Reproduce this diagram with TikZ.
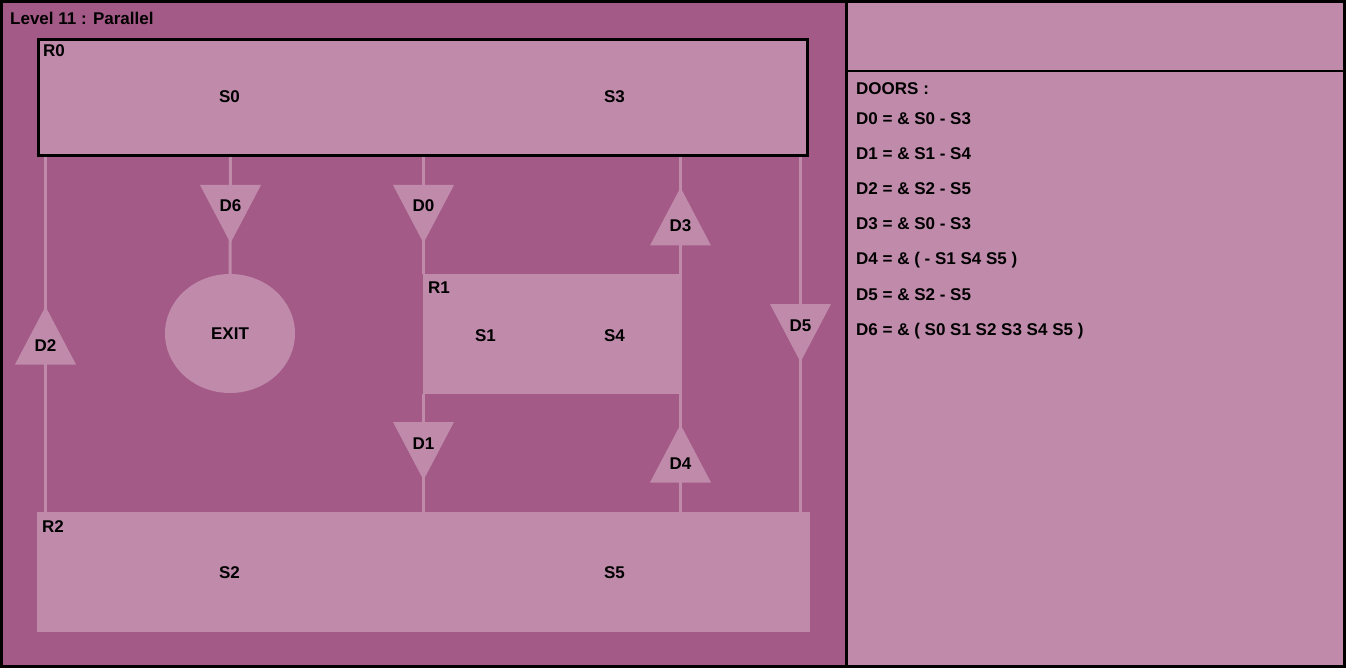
\documentclass[tikz,border=0pt]{standalone}
\usepackage{fontspec}
\setmainfont{Liberation Sans}
\usetikzlibrary{shapes.geometric}
\definecolor{darkp}{RGB}{164,90,135}
\definecolor{lightp}{RGB}{192,139,171}
\pgfdeclarelayer{back}
\pgfdeclarelayer{mid}
\pgfsetlayers{back,mid,main}
\newcommand\mydowndoor[3]{%
  \fill[lightp] (#2-30.5,#3) -- (#2+30.5,#3) -- (#2,#3+58) -- cycle;
  \node[txt, anchor=base] (#1) at (#2,#3+27) {#1};}
\newcommand\myupdoor[3]{%
  \fill[lightp] (#2-30.5,#3+58) -- (#2+30.5,#3+58) -- (#2,#3) -- cycle;
  \node[txt, anchor=base] (#1) at (#2,#3+44.5) {#1};}
\begin{document}
\begin{tikzpicture}[x=1pt,y=-1pt,
  txt/.style={font=\fontsize{17}{20}\selectfont\bfseries, inner sep=0pt, text=black},
  wire/.style={draw=lightp, line width=3pt},
  roombox/.style={fill=lightp, inner sep=0pt, outer sep=0pt}]
\useasboundingbox (0,0) rectangle (1346,668);
\begin{pgfonlayer}{back}
\fill[black] (0,0) rectangle (1346,668);
\fill[darkp] (3,3) rectangle (845,665);
\fill[lightp] (848,3) rectangle (1343,70);
\fill[lightp] (848,72) rectangle (1343,665);
\end{pgfonlayer}
% rooms
\node[roombox, draw=black, line width=3pt, minimum width=769pt, minimum height=116pt, outer sep=1.5pt] (R0) at (423,97.5) {};
\node[roombox, minimum width=258.5pt, minimum height=119.5pt] (R1) at (552.25,333.75) {};
\node[roombox, minimum width=773pt, minimum height=119.5pt] (R2) at (423.5,571.75) {};
\node[roombox, ellipse, minimum width=130pt, minimum height=119pt] (EXIT) at (230,333.5) {};
\node[txt, anchor=base] (EXITlabel) at (230,339) {EXIT};
% room labels
\node[txt, anchor=base west] (title) at (10,25) {Level 11 : Parallel};
\node[txt, anchor=base west] (R0label) at (43,57) {R0};
\node[txt, anchor=base] (S0) at (229.5,103) {S0};
\node[txt, anchor=base] (S3) at (614.5,103) {S3};
\node[txt, anchor=base west] (R1label) at (428,294) {R1};
\node[txt, anchor=base] (S1) at (485.5,341) {S1};
\node[txt, anchor=base] (S4) at (614.5,341) {S4};
\node[txt, anchor=base west] (R2label) at (42,532) {R2};
\node[txt, anchor=base] (S2) at (229.5,578) {S2};
\node[txt, anchor=base] (S5) at (614.5,578) {S5};
% doors
\mydowndoor{D6}{230.5}{185}
\mydowndoor{D0}{423.5}{185}
\mydowndoor{D1}{423.5}{422}
\mydowndoor{D5}{800.5}{304}
\myupdoor{D3}{680.5}{187.5}
\myupdoor{D4}{680.5}{424.5}
\myupdoor{D2}{45.5}{306.5}
% connectors
\begin{pgfonlayer}{mid}
\draw[wire] (R0.south -| D2) -- (R2.north -| D2);
\draw[wire] (R0.south -| D6) -- (EXIT.north);
\draw[wire] (R0.south -| D0) -- (R1.north -| D0);
\draw[wire] (R1.south -| D1) -- (R2.north -| D1);
\draw[wire] (R0.south -| D3) -- (R1.north -| D3);
\draw[wire] (R1.south -| D4) -- (R2.north -| D4);
\draw[wire] (R0.south -| D5) -- (R2.north -| D5);
\end{pgfonlayer}
% door list
\node[txt, anchor=base west] (doors) at (856,95) {DOORS :};
\node[txt, anchor=base west] (L0) at (856,125) {D0 = \& S0 - S3};
\node[txt, anchor=base west] (L1) at (856,160) {D1 = \& S1 - S4};
\node[txt, anchor=base west] (L2) at (856,195) {D2 = \& S2 - S5};
\node[txt, anchor=base west] (L3) at (856,230) {D3 = \& S0 - S3};
\node[txt, anchor=base west] (L4) at (856,265) {D4 = \& ( - S1 S4 S5 )};
\node[txt, anchor=base west] (L5) at (856,300) {D5 = \& S2 - S5};
\node[txt, anchor=base west] (L6) at (856,335) {D6 = \& ( S0 S1 S2 S3 S4 S5 )};
\end{tikzpicture}
\end{document}
